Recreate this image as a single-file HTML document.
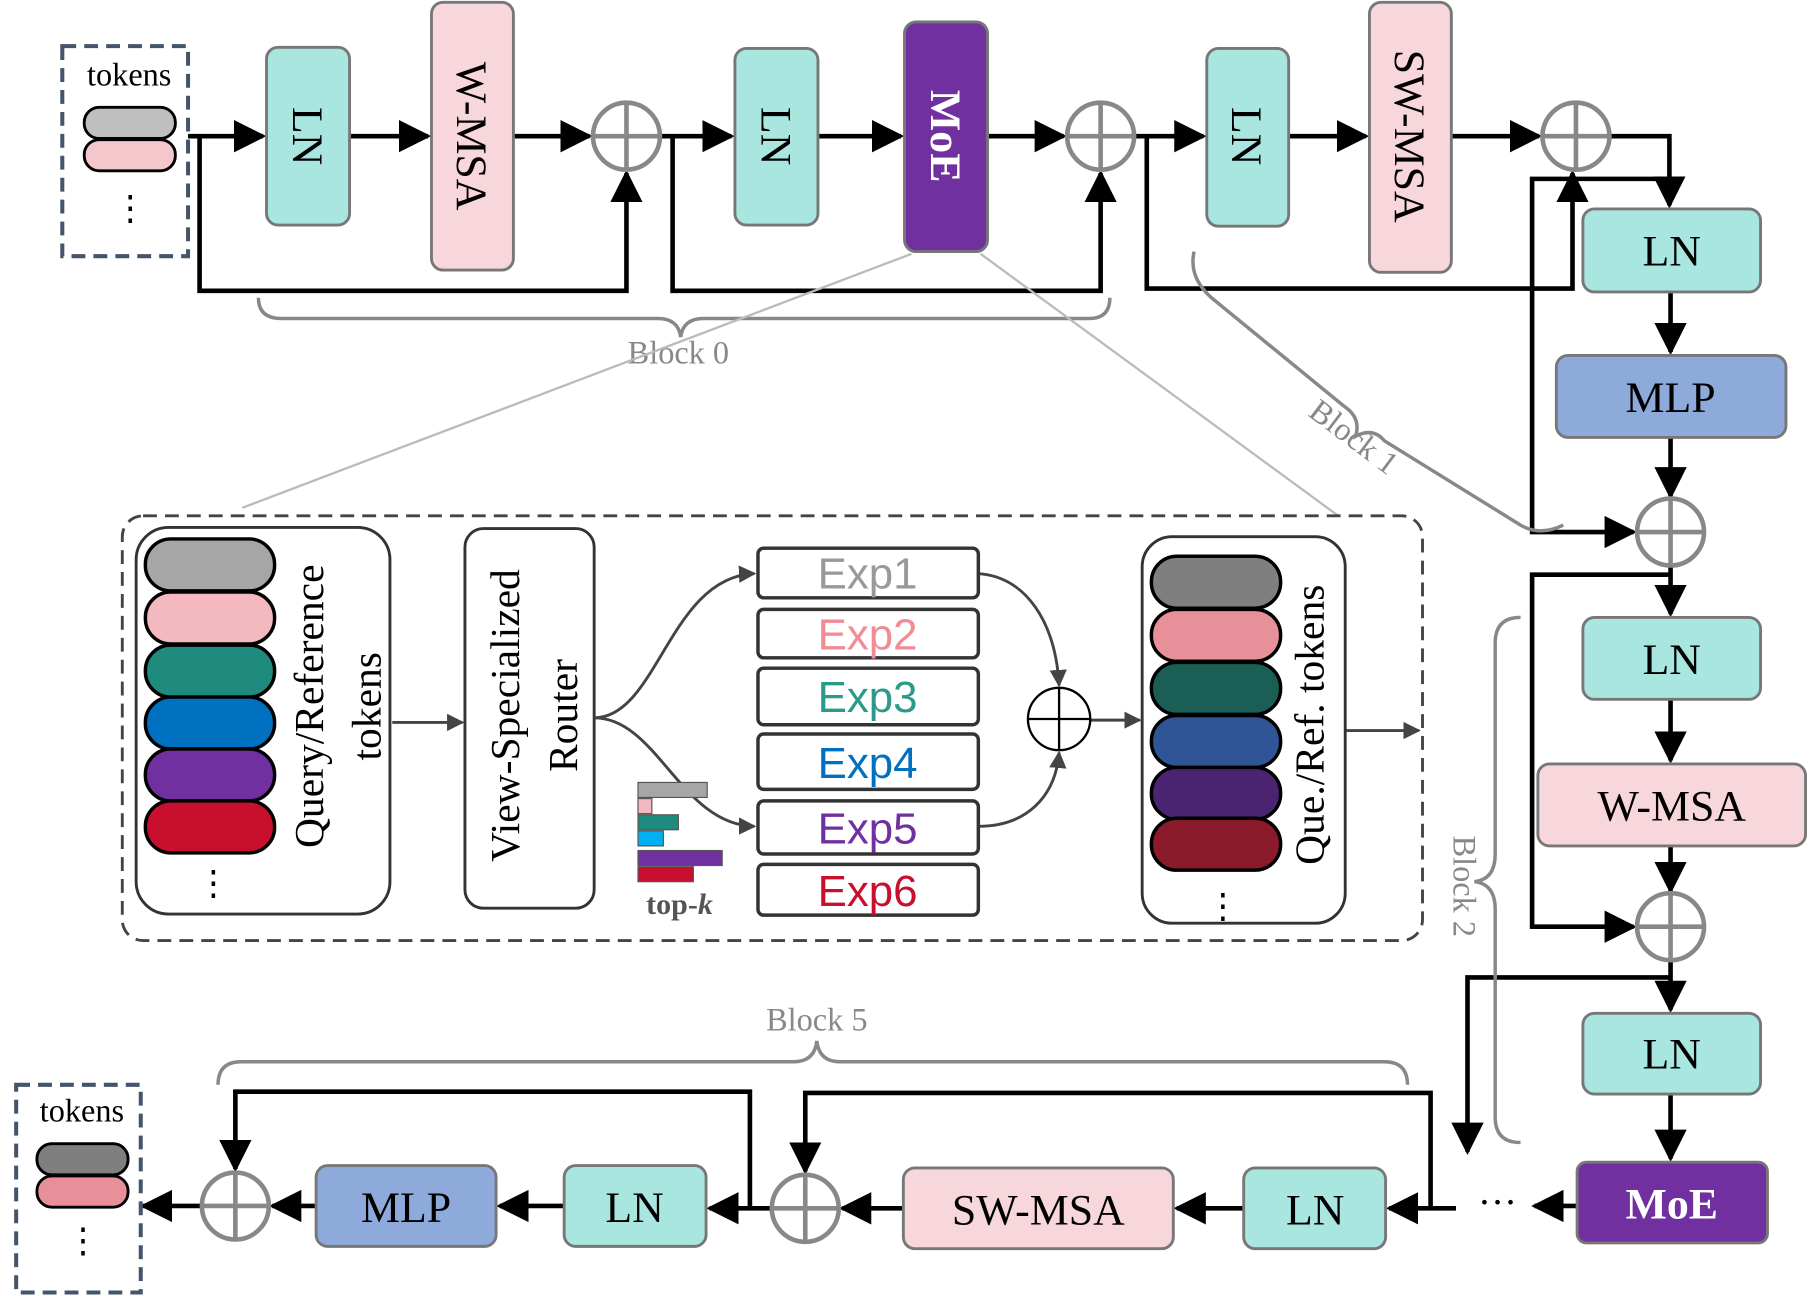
<!DOCTYPE html>
<html><head><meta charset="utf-8"><style>html,body{margin:0;padding:0;background:#fff}svg{display:block}</style></head><body>
<svg width="1809" height="1296" viewBox="0 0 1568 1123" preserveAspectRatio="none" xmlns="http://www.w3.org/2000/svg" font-family="Liberation Serif, serif">
<defs>
<marker id="a" markerWidth="8" markerHeight="8" refX="7" refY="4" orient="auto" markerUnits="userSpaceOnUse"><path d="M0,0 L0,0" /></marker>
<marker id="ah" viewBox="0 0 10 10" refX="9" refY="5" markerWidth="7" markerHeight="7" orient="auto"><path d="M0,0 L10,5 L0,10 z" fill="#000"/></marker>
<marker id="ag" viewBox="0 0 10 10" refX="9" refY="5" markerWidth="6" markerHeight="6" orient="auto"><path d="M0,0 L10,5 L0,10 z" fill="#444"/></marker>
</defs>
<g fill="none" stroke="#000" stroke-width="4">
<!-- top row -->
<path d="M163,118 H228" marker-end="url(#ah)"/>
<path d="M303,118 H371" marker-end="url(#ah)"/>
<path d="M445,118 H511" marker-end="url(#ah)"/>
<path d="M173,118 V252 H543 V150" marker-end="url(#ah)"/>
<path d="M572,118 H634" marker-end="url(#ah)"/>
<path d="M709,118 H781" marker-end="url(#ah)"/>
<path d="M856,118 H922" marker-end="url(#ah)"/>
<path d="M583,118 V252 H954 V150" marker-end="url(#ah)"/>
<path d="M983,118 H1043" marker-end="url(#ah)"/>
<path d="M1117,118 H1184" marker-end="url(#ah)"/>
<path d="M1258,118 H1334" marker-end="url(#ah)"/>
<path d="M994,118 V250 H1363 V150" marker-end="url(#ah)"/>
<path d="M1395,118 H1447 V178" marker-end="url(#ah)"/>
<path d="M1447,155 H1328 V461 H1416" marker-end="url(#ah)"/>
<path d="M1448,253 V305" marker-end="url(#ah)"/>
<path d="M1448,379 V430" marker-end="url(#ah)"/>
<path d="M1448,490 V532" marker-end="url(#ah)"/>
<path d="M1448,498 H1328 V803 H1416" marker-end="url(#ah)"/>
<path d="M1448,606 V659" marker-end="url(#ah)"/>
<path d="M1448,733 V772" marker-end="url(#ah)"/>
<path d="M1448,832 V875" marker-end="url(#ah)"/>
<path d="M1448,847 H1272 V998" marker-end="url(#ah)"/>
<path d="M1448,948 V1004" marker-end="url(#ah)"/>
<path d="M1367,1045 H1330" marker-end="url(#ah)"/>
<path d="M1262,1047 H1204" marker-end="url(#ah)"/>
<path d="M1240,1047 V947 H698 V1015" marker-end="url(#ah)"/>
<path d="M1078,1047 H1020" marker-end="url(#ah)"/>
<path d="M783,1047 H730" marker-end="url(#ah)"/>
<path d="M668,1047 H615" marker-end="url(#ah)"/>
<path d="M650,1047 V946 H204 V1013" marker-end="url(#ah)"/>
<path d="M489,1045 H433" marker-end="url(#ah)"/>
<path d="M274,1045 H236" marker-end="url(#ah)"/>
<path d="M174,1045 H124" marker-end="url(#ah)"/>
</g>
<text x="1298" y="1053" font-size="34" text-anchor="middle">···</text>
<!-- plus circles -->
<g fill="none" stroke="#888" stroke-width="4">
<g id="pc"><circle cx="543" cy="118" r="29"/><path d="M514,118 H572 M543,89 V147"/></g>
<circle cx="954" cy="118" r="29"/><path d="M925,118 H983 M954,89 V147"/>
<circle cx="1366" cy="118" r="29"/><path d="M1337,118 H1395 M1366,89 V147"/>
<circle cx="1448" cy="461" r="29"/><path d="M1419,461 H1477 M1448,432 V490"/>
<circle cx="1448" cy="803" r="29"/><path d="M1419,803 H1477 M1448,774 V832"/>
<circle cx="698" cy="1047" r="29"/><path d="M669,1047 H727 M698,1018 V1076"/>
<circle cx="204" cy="1045" r="29"/><path d="M175,1045 H233 M204,1016 V1074"/>
</g>
<!-- boxes -->
<g stroke="#777" stroke-width="2.5">
<rect x="231" y="41" width="72" height="154" rx="10" fill="#a8e6df"/>
<rect x="374" y="2" width="71" height="232" rx="10" fill="#f8d7dc"/>
<rect x="637" y="42" width="72" height="153" rx="10" fill="#a8e6df"/>
<rect x="784" y="19" width="72" height="199" rx="10" fill="#7030a0"/>
<rect x="1046" y="42" width="71" height="154" rx="10" fill="#a8e6df"/>
<rect x="1187" y="2" width="71" height="234" rx="10" fill="#f8d7dc"/>
<rect x="1372" y="181" width="154" height="72" rx="10" fill="#a8e6df"/>
<rect x="1349" y="308" width="199" height="71" rx="10" fill="#8eaadb"/>
<rect x="1372" y="535" width="154" height="71" rx="10" fill="#a8e6df"/>
<rect x="1333" y="662" width="232" height="71" rx="10" fill="#f8d7dc"/>
<rect x="1372" y="878" width="154" height="70" rx="10" fill="#a8e6df"/>
<rect x="1367" y="1007" width="165" height="70" rx="8" fill="#7030a0"/>
<rect x="1078" y="1012" width="123" height="70" rx="10" fill="#a8e6df"/>
<rect x="783" y="1012" width="234" height="70" rx="10" fill="#f8d7dc"/>
<rect x="489" y="1010" width="123" height="70" rx="10" fill="#a8e6df"/>
<rect x="274" y="1010" width="156" height="70" rx="10" fill="#8eaadb"/>
</g>
<g font-size="38" text-anchor="middle">
<text transform="translate(267,118) rotate(90)" dy="13">LN</text>
<text transform="translate(409,118) rotate(90)" dy="13">W-MSA</text>
<text transform="translate(673,118) rotate(90)" dy="13">LN</text>
<text transform="translate(820,118) rotate(90)" dy="13" fill="#fff" font-weight="bold">MoE</text>
<text transform="translate(1081,118) rotate(90)" dy="13">LN</text>
<text transform="translate(1222,118) rotate(90)" dy="13">SW-MSA</text>
<text x="1449" y="230">LN</text>
<text x="1448" y="357">MLP</text>
<text x="1449" y="584">LN</text>
<text x="1449" y="711">W-MSA</text>
<text x="1449" y="926">LN</text>
<text x="1449" y="1056" fill="#fff" font-weight="bold">MoE</text>
<text x="1140" y="1061">LN</text>
<text x="900" y="1061">SW-MSA</text>
<text x="550" y="1059">LN</text>
<text x="352" y="1059">MLP</text>
</g>
<!-- tokens boxes -->
<rect x="54" y="40" width="109" height="182" fill="none" stroke="#44546a" stroke-width="3.5" stroke-dasharray="12,7"/>
<text x="112" y="74" font-size="28" text-anchor="middle">tokens</text>
<rect x="73" y="93" width="79" height="27" rx="13" fill="#bfbfbf" stroke="#000" stroke-width="2.5"/>
<rect x="73" y="121" width="79" height="27" rx="13" fill="#f4c7cd" stroke="#000" stroke-width="2.5"/>
<text x="113" y="190" font-size="30" text-anchor="middle">⋮</text>
<rect x="14" y="940" width="108" height="180" fill="none" stroke="#44546a" stroke-width="3.5" stroke-dasharray="12,7"/>
<text x="71" y="972" font-size="28" text-anchor="middle">tokens</text>
<rect x="32" y="991" width="79" height="27" rx="13" fill="#7f7f7f" stroke="#000" stroke-width="2.5"/>
<rect x="32" y="1019" width="79" height="27" rx="13" fill="#e8909a" stroke="#000" stroke-width="2.5"/>
<text x="72" y="1085" font-size="30" text-anchor="middle">⋮</text>
<!-- braces -->
<g fill="none" stroke="#888" stroke-width="3">
<path d="M224,258 Q224,276 244,276 H570 Q588,276 590,292 Q592,276 610,276 H944 Q962,276 962,258"/>
<path d="M189,940 Q189,920 209,920 H688 Q706,920 708,902 Q710,920 728,920 H1200 Q1220,920 1220,940"/>
<path d="M1318,535 Q1296,535 1296,557 V740 Q1296,762 1278,764 Q1296,766 1296,788 V968 Q1296,990 1318,990"/>
<path d="M1035,218 Q1030,240 1050,258 L1165,352 Q1180,362 1175,378 Q1190,370 1200,382 L1318,455 Q1335,465 1355,455"/>
</g>
<g fill="#888" font-size="28" text-anchor="middle">
<text x="588" y="315">Block 0</text>
<text x="708" y="893">Block 5</text>
<text transform="translate(1168,386) rotate(37)">Block 1</text>
<text transform="translate(1260,768) rotate(90)">Block 2</text>
</g>
<!-- zoom lines -->
<path d="M790,220 L210,440 M850,220 L1160,447" stroke="#bbb" stroke-width="2" fill="none"/>
<!-- inset -->
<rect x="106" y="447" width="1127" height="368" rx="18" fill="none" stroke="#444" stroke-width="2.5" stroke-dasharray="12,7"/>
<rect x="118" y="457" width="220" height="335" rx="28" fill="none" stroke="#333" stroke-width="2.5"/>
<g stroke="#000" stroke-width="3">
<rect x="126" y="467" width="112" height="45" rx="22" fill="#a6a6a6"/>
<rect x="126" y="513" width="112" height="45" rx="22" fill="#f4b8c0"/>
<rect x="126" y="559" width="112" height="45" rx="22" fill="#1f8a7e"/>
<rect x="126" y="604" width="112" height="45" rx="22" fill="#0070c0"/>
<rect x="126" y="649" width="112" height="45" rx="22" fill="#7030a0"/>
<rect x="126" y="694" width="112" height="45" rx="22" fill="#c8102e"/>
</g>
<text x="185" y="775" font-size="30" text-anchor="middle">⋮</text>
<text transform="translate(280,612) rotate(-90)" font-size="36" text-anchor="middle">Query/Reference</text>
<text transform="translate(330,612) rotate(-90)" font-size="36" text-anchor="middle">tokens</text>
<path d="M340,626 H401" stroke="#444" stroke-width="2.5" fill="none" marker-end="url(#ag)"/>
<rect x="403" y="458" width="112" height="329" rx="16" fill="none" stroke="#333" stroke-width="2.5"/>
<text transform="translate(450,620) rotate(-90)" font-size="36" text-anchor="middle">View-Specialized</text>
<text transform="translate(500,620) rotate(-90)" font-size="36" text-anchor="middle">Router</text>
<g fill="none" stroke="#444" stroke-width="2.5">
<path d="M515,622 C570,622 580,500 654,497" marker-end="url(#ag)"/>
<path d="M515,622 C570,622 590,715 654,716" marker-end="url(#ag)"/>
<path d="M848,497 C890,500 915,540 918,594" marker-end="url(#ag)"/>
<path d="M848,716 C890,716 915,690 918,652" marker-end="url(#ag)"/>
<path d="M945,624 H988" marker-end="url(#ag)"/>
<path d="M1166,633 H1230" marker-end="url(#ag)"/>
<circle cx="918" cy="623" r="27" stroke="#000" stroke-width="2"/>
<path d="M891,623 H945 M918,596 V650" stroke="#000" stroke-width="2"/>
</g>
<g stroke="#333" stroke-width="3" fill="#fff">
<rect x="657" y="475" width="191" height="43" rx="5"/>
<rect x="657" y="528" width="191" height="42" rx="5"/>
<rect x="657" y="579" width="191" height="49" rx="5"/>
<rect x="657" y="636" width="191" height="48" rx="5"/>
<rect x="657" y="694" width="191" height="46" rx="5"/>
<rect x="657" y="749" width="191" height="44" rx="5"/>
</g>
<g font-family="Liberation Sans, sans-serif" font-size="38" text-anchor="middle">
<text x="752" y="510" fill="#999">Exp1</text>
<text x="752" y="563" fill="#f08c96">Exp2</text>
<text x="752" y="617" fill="#2a9a8a">Exp3</text>
<text x="752" y="674" fill="#0070c0">Exp4</text>
<text x="752" y="731" fill="#7030a0">Exp5</text>
<text x="752" y="785" fill="#c8102e">Exp6</text>
</g>
<g stroke="#555" stroke-width="1">
<rect x="553" y="678" width="60" height="13" fill="#a6a6a6"/>
<rect x="553" y="692" width="12" height="13" fill="#f4b8c0"/>
<rect x="553" y="706" width="35" height="13" fill="#1f8a7e"/>
<rect x="553" y="720" width="22" height="13" fill="#00b0f0"/>
<rect x="553" y="737" width="73" height="13" fill="#7030a0"/>
<rect x="553" y="751" width="48" height="13" fill="#c8102e"/>
</g>
<text x="589" y="792" font-size="26" font-weight="bold" fill="#555" text-anchor="middle">top-<tspan font-style="italic">k</tspan></text>
<rect x="990" y="465" width="176" height="335" rx="26" fill="none" stroke="#333" stroke-width="2.5"/>
<g stroke="#000" stroke-width="3">
<rect x="998" y="482" width="112" height="45" rx="22" fill="#7f7f7f"/>
<rect x="998" y="528" width="112" height="45" rx="22" fill="#e8909a"/>
<rect x="998" y="574" width="112" height="45" rx="22" fill="#1a5e55"/>
<rect x="998" y="620" width="112" height="45" rx="22" fill="#2f5597"/>
<rect x="998" y="665" width="112" height="45" rx="22" fill="#4a2470"/>
<rect x="998" y="709" width="112" height="45" rx="22" fill="#8b1a2a"/>
</g>
<text x="1060" y="795" font-size="30" text-anchor="middle">⋮</text>
<text transform="translate(1147,628) rotate(-90)" font-size="36" text-anchor="middle">Que./Ref. tokens</text>
</svg>
</body></html>
